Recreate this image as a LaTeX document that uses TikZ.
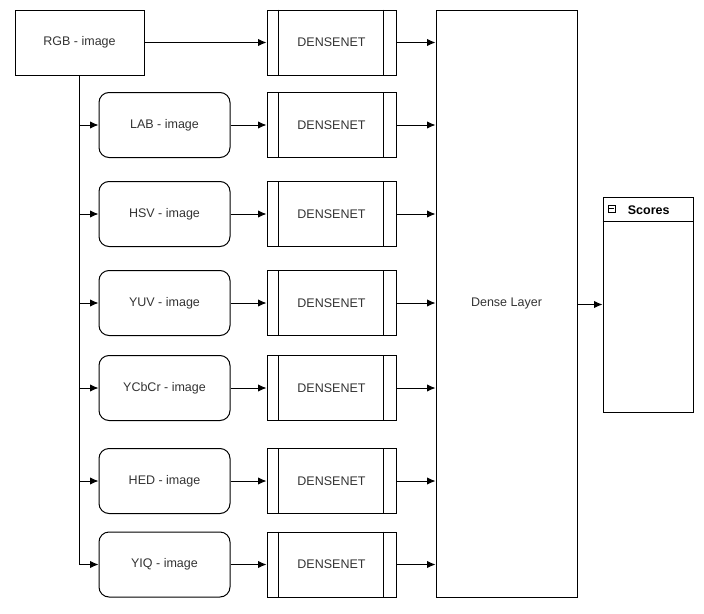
\documentclass[tikz,border=0pt]{standalone}
\usepackage{fontspec}
\setmainfont{Liberation Sans}
\usetikzlibrary{arrows.meta}
\begin{document}
\begin{tikzpicture}[x=1pt,y=-1pt,>={Latex[length=8.5pt,width=7.5pt]},line width=1pt,
  font=\fontsize{12.5}{15}\selectfont,
  imgbox/.style={draw,rounded corners=10pt,minimum width=131pt,minimum height=65pt,inner sep=0pt,text=black!80},
  netbox/.style={draw,minimum width=129pt,minimum height=65pt,inner sep=0pt,text=black!80}]
\useasboundingbox (0,0) rectangle (704,613);

\node[draw,minimum width=129pt,minimum height=65pt,inner sep=0pt,text=black!80] (rgb) at (79.5,42.5) {RGB - image};
\node[netbox] (net-rgb) at (331.5,42.5) {DENSENET};
\node[draw,minimum width=141pt,minimum height=587pt,inner sep=0pt,text=black!80] (dense) at (506.5,303.5) {Dense Layer};
\node[draw,minimum width=90pt,minimum height=215pt,inner sep=0pt] (scores) at (648,304.5) {};
\draw (scores.north west)++(0,25) coordinate (hd) -- (hd -| scores.east);
\node[font=\fontsize{12.5}{15}\selectfont\bfseries,anchor=west] (title) at (624,210) {Scores};
\node[draw,line width=0.6pt,minimum size=7pt,inner sep=0pt] (icon) at (611.5,208.5) {};
\draw[line width=0.6pt] ([xshift=1.5pt]icon.west) -- ([xshift=-1.5pt]icon.east);

\draw[->] (rgb) -- (net-rgb);
\foreach \n/\t/\y in {lab/LAB/125,hsv/HSV/214,yuv/YUV/303,ycbcr/YCbCr/388,hed/HED/481,yiq/YIQ/564.5}{
  \node[imgbox] (\n) at (164.5,\y) {\t\ - image};
  \node[netbox] (net-\n) at (331.5,\y) {DENSENET};
  \draw[->] (rgb.south) |- (\n.west);
  \draw[->] (\n) -- (net-\n);
}
\foreach \n in {rgb,lab,hsv,yuv,ycbcr,hed,yiq}{
  \draw ([xshift=12pt]net-\n.north west) -- ([xshift=12pt]net-\n.south west);
  \draw ([xshift=-13pt]net-\n.north east) -- ([xshift=-13pt]net-\n.south east);
  \draw[->] (net-\n.east) -- (net-\n.east -| dense.west);
}
\draw[->] (scores.west -| dense.east) -- (scores.west);

\end{tikzpicture}
\end{document}
